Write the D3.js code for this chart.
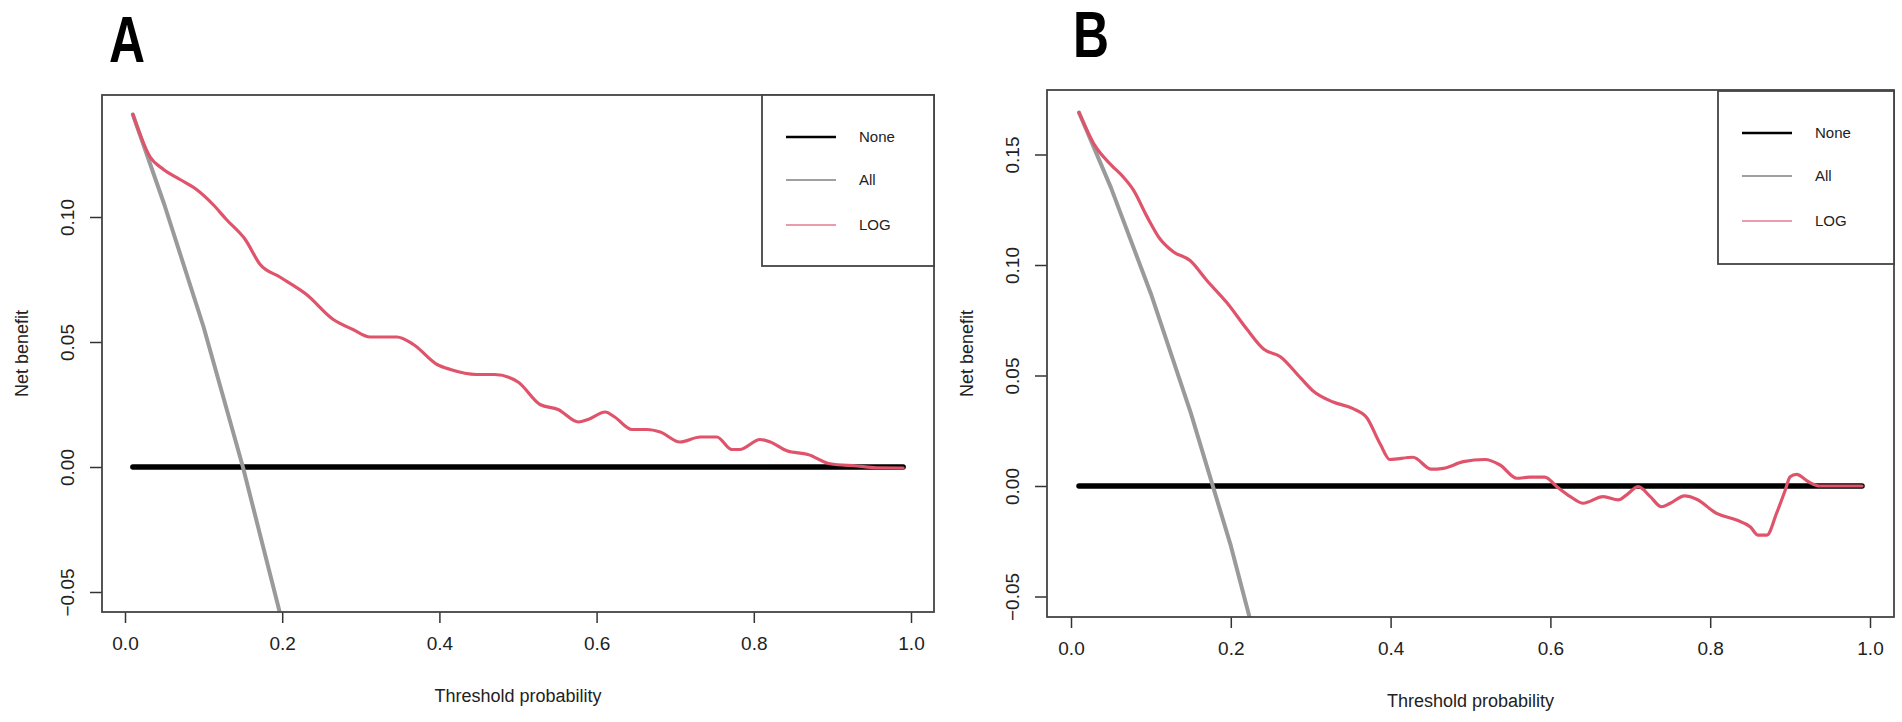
<!DOCTYPE html>
<html>
<head>
<meta charset="utf-8">
<script src="https://cdn.jsdelivr.net/npm/d3@7"></script>
<style>
  body { margin: 0; background: #fff; }
  svg { display: block; }
  text { font-family: "Liberation Sans", Arial, sans-serif; fill: #222; }
</style>
</head>
<body>
<div id="container"></div>
<script>
// values
const panelLabels = ["A", "B"];
const legendLabels = ["None", "All", "LOG"];
const xTicks = [0, 0.2, 0.4, 0.6, 0.8, 1.0];
const yTicksA = [-0.05, 0, 0.05, 0.10];
const yTicksB = [-0.05, 0, 0.05, 0.10, 0.15];

const noneT = [0.01, 0.99];
const noneV = [0, 0];

const allTA = [0.01, 0.05, 0.10, 0.15, 0.20, 0.25];
const allVA = [0.141, 0.105, 0.056, 0.0, -0.062, -0.133];
const allTB = [0.01, 0.05, 0.10, 0.15, 0.20, 0.25];
const allVB = [0.169, 0.135, 0.087, 0.033, -0.027, -0.096];

const logTA = [0.01, 0.032, 0.049, 0.07, 0.091, 0.112, 0.129, 0.153, 0.172, 0.197, 0.231, 0.265, 0.29, 0.312,
  0.346, 0.367, 0.397, 0.414, 0.447, 0.47, 0.5, 0.528, 0.551, 0.577, 0.589, 0.611, 0.623, 0.645, 0.664,
  0.681, 0.706, 0.732, 0.753, 0.772, 0.782, 0.808, 0.821, 0.842, 0.869, 0.897, 0.931, 0.956, 0.99];
const logVA = [0.141, 0.124, 0.119, 0.115, 0.111, 0.105, 0.099, 0.091, 0.081, 0.076, 0.069, 0.059, 0.055, 0.052,
  0.052, 0.049, 0.041, 0.039, 0.037, 0.037, 0.034, 0.025, 0.023, 0.018, 0.019, 0.022, 0.020, 0.015, 0.015,
  0.014, 0.010, 0.012, 0.012, 0.007, 0.007, 0.011, 0.010, 0.0065, 0.005, 0.0013, 0.0004, -0.0003, -0.0004];

const logTB = [0.01, 0.03, 0.051, 0.065, 0.078, 0.095, 0.111, 0.128, 0.149, 0.17, 0.195, 0.22, 0.241, 0.262,
  0.287, 0.303, 0.328, 0.353, 0.37, 0.387, 0.399, 0.428, 0.451, 0.466, 0.491, 0.518, 0.537, 0.558, 0.574,
  0.593, 0.608, 0.625, 0.641, 0.666, 0.685, 0.695, 0.71, 0.725, 0.739, 0.75, 0.768, 0.783, 0.808, 0.833,
  0.85, 0.86, 0.871, 0.883, 0.894, 0.9, 0.908, 0.923, 0.937, 0.99];
const logVB = [0.169, 0.154, 0.145, 0.140, 0.134, 0.122, 0.112, 0.106, 0.102, 0.093, 0.083, 0.071, 0.062, 0.0585,
  0.049, 0.043, 0.038, 0.035, 0.031, 0.019, 0.012, 0.013, 0.0076, 0.008, 0.011, 0.012, 0.0095, 0.0035, 0.004,
  0.004, -0.0003, -0.0048, -0.0078, -0.0048, -0.0063, -0.0041, -0.0003, -0.0048, -0.0094, -0.0078, -0.0045, -0.006, -0.0124, -0.0154,
  -0.0184, -0.0222, -0.0222, -0.0124, -0.0018, 0.0042, 0.0053, 0.0019, 0.0, 0.0];

const colors = {None: "#000000", All: "#9a9a9a", LOG: "#DF536B"};
const widths = {None: 5.5, All: 4, LOG: 3.2};
const curves = {None: d3.curveLinear, All: d3.curveLinear, LOG: d3.curveMonotoneX};
const legendWidths = {None: 2.4, All: 2, LOG: 1.5};
const legendColors = {None: "#000000", All: "#a0a0a0", LOG: "#e57a8c"};

const panels = [
  {
    label: panelLabels[0], labelX: 127, labelY: 62,
    box: {left: 102, top: 95, right: 934, bottom: 612},
    xRange: [125, 911], yDomain: [-0.05, 0.10], yRange: [592, 217], yTicks: yTicksA,
    legend: {left: 762, top: 95, right: 934, bottom: 266},
    series: {
      None: [noneT, noneV], All: [allTA, allVA], LOG: [logTA, logVA]
    }
  },
  {
    label: panelLabels[1], labelX: 1091, labelY: 57,
    box: {left: 1047, top: 90, right: 1894, bottom: 617},
    xRange: [1071, 1870], yDomain: [-0.05, 0.15], yRange: [596.5, 154.5], yTicks: yTicksB,
    legend: {left: 1718, top: 91, right: 1894, bottom: 264},
    series: {
      None: [noneT, noneV], All: [allTB, allVB], LOG: [logTB, logVB]
    }
  }
];

const svg = d3.select("#container")
  .append("svg")
  .attr("width", 1902)
  .attr("height", 722);

panels.forEach((p, pi) => {
  const x = d3.scaleLinear().domain([0, 1]).range(p.xRange);
  const y = d3.scaleLinear().domain(p.yDomain).range(p.yRange);
  const b = p.box;

  const g = svg.append("g");

  // panel letter
  g.append("text")
    .attr("x", p.labelX)
    .attr("y", p.labelY)
    .attr("text-anchor", "middle")
    .attr("textLength", 36)
    .attr("lengthAdjust", "spacingAndGlyphs")
    .style("font-size", "64px")
    .style("font-weight", "bold")
    .style("fill", "#000")
    .text(p.label);

  const clipId = "clip" + pi;
  svg.append("clipPath")
    .attr("id", clipId)
    .append("rect")
    .attr("x", b.left)
    .attr("y", b.top)
    .attr("width", b.right - b.left)
    .attr("height", b.bottom - b.top);

  const plot = g.append("g").attr("clip-path", `url(#${clipId})`);
  legendLabels.forEach(key => {
    const [ts, vs] = p.series[key];
    const pts = ts.map((t, i) => ({t: t, v: vs[i]}));
    const line = d3.line()
      .x(d => x(d.t))
      .y(d => y(d.v))
      .curve(curves[key]);
    plot.append("path")
      .datum(pts)
      .attr("fill", "none")
      .attr("stroke", colors[key])
      .attr("stroke-width", widths[key])
      .attr("stroke-linejoin", "round")
      .attr("stroke-linecap", "round")
      .attr("d", line);
  });

  // bottom axis
  const xAxis = g.append("g")
    .attr("transform", `translate(0,${b.bottom})`)
    .call(d3.axisBottom(x).tickValues(xTicks).tickSize(11).tickPadding(14).tickFormat(d3.format(".1f")));
  xAxis.select(".domain").remove();
  xAxis.selectAll("line").attr("stroke", "#333").attr("stroke-width", 1.5);
  xAxis.selectAll("text")
    .attr("fill", "#222")
    .style("font-size", "19px")
    .style("font-family", "'Liberation Sans', Arial, sans-serif");

  // left axis, R style rotated labels
  const yAxis = g.append("g")
    .attr("transform", `translate(${b.left},0)`)
    .call(d3.axisLeft(y).tickValues(p.yTicks).tickSize(12).tickFormat(d3.format(".2f")));
  yAxis.select(".domain").remove();
  yAxis.selectAll("line").attr("stroke", "#333").attr("stroke-width", 1.5);
  yAxis.selectAll("text")
    .attr("x", null)
    .attr("text-anchor", "middle")
    .attr("transform", "translate(-35,0) rotate(-90)")
    .attr("dy", "0.35em")
    .attr("fill", "#222")
    .style("font-size", "19px")
    .style("font-family", "'Liberation Sans', Arial, sans-serif");

  // plot box
  g.append("rect")
    .attr("x", b.left)
    .attr("y", b.top)
    .attr("width", b.right - b.left)
    .attr("height", b.bottom - b.top)
    .attr("fill", "none")
    .attr("stroke", "#444")
    .attr("stroke-width", 1.8);

  // axis titles
  g.append("text")
    .attr("x", (b.left + b.right) / 2)
    .attr("y", b.bottom + 90)
    .attr("text-anchor", "middle")
    .style("font-size", "18px")
    .text("Threshold probability");

  g.append("text")
    .attr("transform", `translate(${b.left - 74},${(b.top + b.bottom) / 2}) rotate(-90)`)
    .attr("text-anchor", "middle")
    .style("font-size", "18px")
    .text("Net benefit");

  // legend
  const L = p.legend;
  const legend = g.append("g");
  legend.append("rect")
    .attr("x", L.left)
    .attr("y", L.top)
    .attr("width", L.right - L.left)
    .attr("height", L.bottom - L.top)
    .attr("fill", "#fff")
    .attr("stroke", "#444")
    .attr("stroke-width", 1.8);

  const rowY = [42, 85, 130];
  legendLabels.forEach((key, i) => {
    const yy = L.top + rowY[i];
    legend.append("line")
      .attr("x1", L.left + 24)
      .attr("x2", L.left + 74)
      .attr("y1", yy)
      .attr("y2", yy)
      .attr("stroke", legendColors[key])
      .attr("stroke-width", legendWidths[key]);
    legend.append("text")
      .attr("x", L.left + 97)
      .attr("y", yy)
      .attr("dy", "0.35em")
      .style("font-size", "15px")
      .text(key);
  });
});
</script>
</body>
</html>
